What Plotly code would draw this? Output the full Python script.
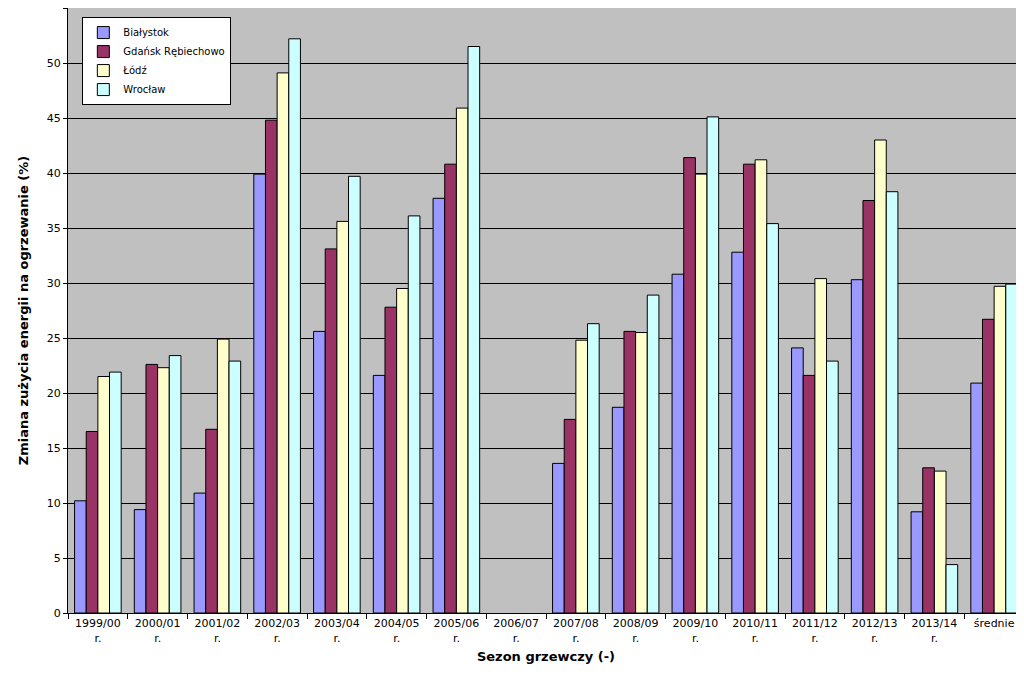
import plotly.graph_objects as go

seasons = ["1999/00<br>r.", "2000/01<br>r.", "2001/02<br>r.", "2002/03<br>r.", "2003/04<br>r.",
           "2004/05<br>r.", "2005/06<br>r.", "2006/07<br>r.", "2007/08<br>r.", "2008/09<br>r.",
           "2009/10<br>r.", "2010/11<br>r.", "2011/12<br>r.", "2012/13<br>r.", "2013/14<br>r.",
           "średnie"]

bialystok = [10.2, 9.4, 10.9, 39.9, 25.6, 21.6, 37.7, None, 13.6, 18.7, 30.8, 32.8, 24.1, 30.3, 9.2, 20.9]
gdansk = [16.5, 22.6, 16.7, 44.8, 33.1, 27.8, 40.8, None, 17.6, 25.6, 41.4, 40.8, 21.6, 37.5, 13.2, 26.7]
lodz = [21.5, 22.3, 24.9, 49.1, 35.6, 29.5, 45.9, None, 24.8, 25.5, 39.9, 41.2, 30.4, 43.0, 12.9, 29.7]
wroclaw = [21.9, 23.4, 22.9, 52.2, 39.7, 36.1, 51.5, None, 26.3, 28.9, 45.1, 35.4, 22.9, 38.3, 4.4, 29.9]

series = [
    ("Białystok", bialystok, "#9999FF"),
    ("Gdańsk Rębiechowo", gdansk, "#993366"),
    ("Łódź", lodz, "#FFFFCC"),
    ("Wrocław", wroclaw, "#CCFFFF"),
]

fig = go.Figure()
for name, vals, col in series:
    fig.add_trace(go.Bar(x=seasons, y=vals, name=name,
                         marker=dict(color=col, line=dict(color="black", width=1))))

fig.update_layout(
    width=1024, height=693,
    barmode="group", bargap=0.22, bargroupgap=0,
    plot_bgcolor="#C0C0C0", paper_bgcolor="white",
    font=dict(family="DejaVu Sans", size=11, color="black"),
    margin=dict(l=60, r=8, t=0, b=88),
    legend=dict(x=0.015, y=0.985, xanchor="left", yanchor="top",
                bgcolor="white", bordercolor="black", borderwidth=1,
                font=dict(size=10), tracegroupgap=8),
    xaxis=dict(title=dict(text="<b>Sezon grzewczy (-)</b>", standoff=8),
               showline=True, linecolor="black", ticks="outside", tickson="boundaries",
               ticklen=5, tickcolor="black"),
    yaxis=dict(title=dict(text="<b>Zmiana zużycia energii na ogrzewanie (%)</b>"),
               range=[0, 55], dtick=5, gridcolor="black", gridwidth=1,
               showline=True, linecolor="black", ticks="outside", ticklen=4,
               tickcolor="black", zeroline=False),
)

fig.write_html("out.html")
